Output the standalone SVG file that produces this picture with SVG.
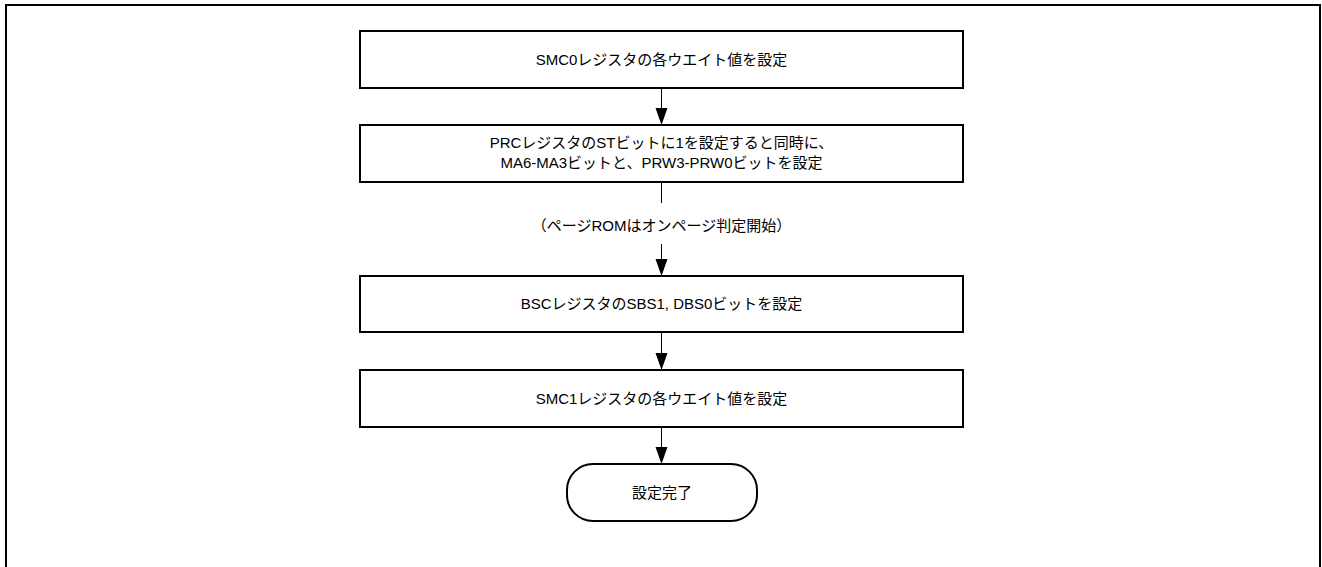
<svg xmlns="http://www.w3.org/2000/svg" width="1322" height="567" viewBox="0 0 1322 567">
<style>
.box{fill:#fff;stroke:#000;stroke-width:2}
.frame{fill:none;stroke:#000;stroke-width:2}
.t{font-family:"Liberation Sans","Noto Sans CJK JP",sans-serif;font-size:15px;fill:#000;text-anchor:middle}
.c{stroke:#000;stroke-width:1;fill:none}
.ah{fill:#000}
</style>
<rect width="1322" height="567" fill="#fff"/>
<path class="frame" d="M6,568 V5 H1320 V568"/>
<g id="connectors">
<line class="c" x1="661.5" y1="88" x2="661.5" y2="110"/>
<polygon class="ah" points="655.5,108 667.5,108 661.5,125"/>
<line class="c" x1="661.5" y1="182" x2="661.5" y2="203"/>
<line class="c" x1="661.5" y1="244" x2="661.5" y2="262"/>
<polygon class="ah" points="655.5,259 667.5,259 661.5,276"/>
<text class="t" x="661.5" y="231">（ページROMはオンページ判定開始）</text>
<line class="c" x1="661.5" y1="332" x2="661.5" y2="356"/>
<polygon class="ah" points="655.5,353 667.5,353 661.5,370"/>
<line class="c" x1="661.5" y1="427" x2="661.5" y2="450"/>
<polygon class="ah" points="655.5,447 667.5,447 661.5,464"/>
</g>
<g id="n1">
<rect class="box" x="360" y="31" width="603" height="57"/>
<text class="t" x="661.5" y="64.5">SMC0レジスタの各ウエイト値を設定</text>
</g>
<g id="n2">
<rect class="box" x="360" y="125" width="603" height="57"/>
<text class="t" x="661.5" y="148">PRCレジスタのSTビットに1を設定すると同時に、</text>
<text class="t" x="661.5" y="168">MA6-MA3ビットと、PRW3-PRW0ビットを設定</text>
</g>
<g id="n3">
<rect class="box" x="360" y="276" width="603" height="56"/>
<text class="t" x="661.5" y="309">BSCレジスタのSBS1, DBS0ビットを設定</text>
</g>
<g id="n4">
<rect class="box" x="360" y="370" width="603" height="57"/>
<text class="t" x="661.5" y="403.5">SMC1レジスタの各ウエイト値を設定</text>
</g>
<g id="n5">
<rect class="box" x="567" y="464" width="190" height="57" rx="26" ry="26"/>
<text class="t" x="662" y="497.5">設定完了</text>
</g>
</svg>
